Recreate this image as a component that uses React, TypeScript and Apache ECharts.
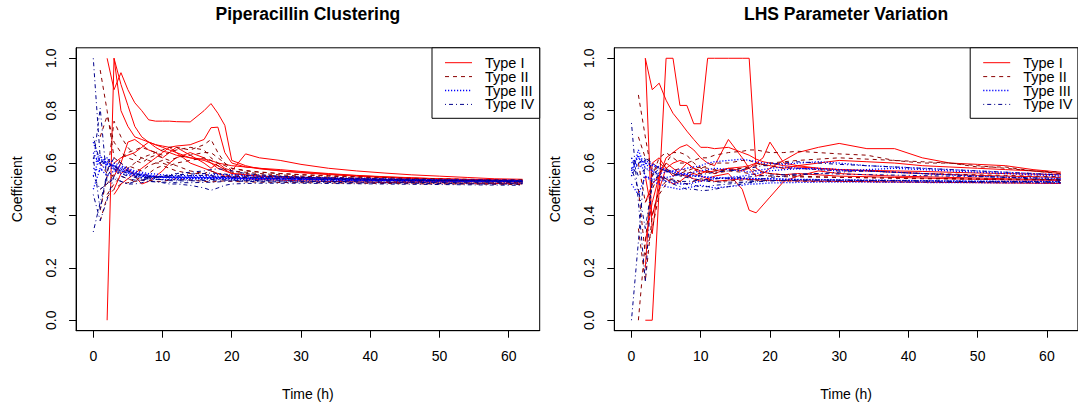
import React, { useEffect, useRef } from "react";
import * as echarts from "echarts";

// Time grid (hours) at which each curve is sampled
const TIME = [0, 1, 2, 3, 4, 5, 6, 7, 8, 9, 10, 11, 12, 14, 16, 17, 18, 19, 20, 22, 24, 27, 30, 34, 38, 42, 46, 50, 54, 58, 62];

const X_TICKS = [0, 10, 20, 30, 40, 50, 60];
const Y_TICKS = [0, 0.2, 0.4, 0.6, 0.8, 1.0];
const LEGEND_LABELS = ["Type I", "Type II", "Type III", "Type IV"];
const PANEL_TITLES = ["Piperacillin Clustering", "LHS Parameter Variation"];

// ---------- Left panel: Piperacillin Clustering ----------
const P_TYPE_I = [
  [null, null, 1.0, 0.88, 0.945, 0.88, 0.83, 0.8, 0.765, 0.76, 0.76, 0.76, 0.758, 0.757, 0.8, 0.827, 0.79, 0.744, 0.61, 0.59, 0.578, 0.57, 0.565, 0.558, 0.552, 0.547, 0.543, 0.54, 0.537, 0.535, 0.533],
  [null, null, 0.0, 1.0, 0.8, 0.74, 0.7, 0.69, 0.68, 0.67, 0.665, 0.66, 0.665, 0.67, 0.69, 0.735, 0.737, 0.64, 0.6, 0.585, 0.58, 0.575, 0.568, 0.56, 0.553, 0.548, 0.544, 0.54, 0.538, 0.536, 0.534],
  [null, null, null, 1.0, 0.9, 0.82, 0.74, 0.7, 0.68, 0.66, 0.645, 0.64, 0.63, 0.62, 0.615, 0.61, 0.6, 0.595, 0.59, 0.585, 0.58, 0.57, 0.563, 0.556, 0.55, 0.545, 0.541, 0.538, 0.536, 0.534, 0.532],
  [null, null, null, 0.55, 0.6, 0.68, 0.69, 0.67, 0.65, 0.64, 0.62, 0.64, 0.66, 0.63, 0.6, 0.58, 0.6, 0.58, 0.57, 0.635, 0.62, 0.61, 0.595, 0.58, 0.57, 0.562, 0.555, 0.55, 0.545, 0.54, 0.538],
  [null, null, null, 0.5, 0.56, 0.58, 0.55, 0.52, 0.53, 0.55, 0.57, 0.6, 0.62, 0.64, 0.62, 0.6, 0.58, 0.57, 0.56, 0.555, 0.55, 0.548, 0.545, 0.542, 0.54, 0.537, 0.535, 0.533, 0.532, 0.531, 0.53],
  [null, null, null, 0.6, 0.62, 0.63, 0.64, 0.66, 0.68, 0.67, 0.66, 0.65, 0.64, 0.62, 0.61, 0.6, 0.59, 0.575, 0.56, 0.555, 0.55, 0.546, 0.542, 0.538, 0.535, 0.533, 0.531, 0.53, 0.529, 0.528, 0.527],
  [null, null, null, 0.48, 0.52, 0.54, 0.56, 0.58, 0.6, 0.62, 0.64, 0.66, 0.64, 0.6, 0.58, 0.57, 0.56, 0.55, 0.545, 0.54, 0.537, 0.535, 0.532, 0.53, 0.528, 0.526, 0.525, 0.524, 0.523, 0.522, 0.521],
];
const P_TYPE_II = [
  [null, 0.955, 0.8, 0.62, 0.6, 0.58, 0.6, 0.62, 0.63, 0.64, 0.65, 0.66, 0.66, 0.65, 0.67, 0.69, 0.64, 0.6, 0.57, 0.565, 0.56, 0.555, 0.55, 0.546, 0.543, 0.54, 0.538, 0.536, 0.535, 0.534, 0.533],
  [null, 0.42, 0.55, 0.76, 0.7, 0.66, 0.63, 0.62, 0.61, 0.6, 0.6, 0.59, 0.6, 0.61, 0.62, 0.61, 0.59, 0.575, 0.565, 0.56, 0.555, 0.55, 0.547, 0.543, 0.54, 0.537, 0.535, 0.533, 0.532, 0.531, 0.53],
  [null, 0.5, 0.52, 0.56, 0.62, 0.64, 0.65, 0.66, 0.65, 0.64, 0.63, 0.64, 0.65, 0.66, 0.65, 0.62, 0.6, 0.59, 0.58, 0.572, 0.566, 0.56, 0.555, 0.55, 0.546, 0.543, 0.54, 0.538, 0.537, 0.536, 0.535],
  [null, 0.6, 0.56, 0.55, 0.57, 0.59, 0.58, 0.57, 0.59, 0.6, 0.61, 0.6, 0.59, 0.57, 0.56, 0.55, 0.545, 0.548, 0.55, 0.548, 0.545, 0.543, 0.54, 0.538, 0.536, 0.534, 0.533, 0.532, 0.531, 0.53, 0.53],
  [null, null, 0.48, 0.52, 0.55, 0.54, 0.53, 0.55, 0.56, 0.58, 0.59, 0.58, 0.57, 0.56, 0.56, 0.57, 0.56, 0.555, 0.55, 0.546, 0.543, 0.54, 0.537, 0.535, 0.533, 0.531, 0.53, 0.529, 0.528, 0.527, 0.526],
  [null, 0.38, 0.47, 0.5, 0.52, 0.525, 0.53, 0.535, 0.535, 0.53, 0.53, 0.535, 0.54, 0.535, 0.53, 0.528, 0.53, 0.532, 0.53, 0.528, 0.527, 0.526, 0.525, 0.524, 0.523, 0.522, 0.521, 0.52, 0.52, 0.519, 0.518],
  [null, 0.7, 0.78, 0.68, 0.64, 0.62, 0.61, 0.6, 0.62, 0.63, 0.62, 0.61, 0.62, 0.63, 0.64, 0.64, 0.62, 0.6, 0.58, 0.57, 0.565, 0.56, 0.556, 0.552, 0.548, 0.545, 0.542, 0.54, 0.538, 0.537, 0.536],
];
const P_TYPE_III = [
  [0.62, 0.61, 0.595, 0.585, 0.575, 0.565, 0.56, 0.555, 0.55, 0.548, 0.546, 0.545, 0.545, 0.544, 0.544, 0.545, 0.545, 0.544, 0.544, 0.543, 0.542, 0.541, 0.54, 0.538, 0.536, 0.535, 0.533, 0.532, 0.531, 0.53, 0.53],
  [0.6, 0.615, 0.6, 0.59, 0.58, 0.57, 0.562, 0.556, 0.552, 0.549, 0.547, 0.546, 0.545, 0.545, 0.545, 0.544, 0.544, 0.544, 0.543, 0.543, 0.542, 0.54, 0.539, 0.537, 0.535, 0.534, 0.533, 0.532, 0.531, 0.53, 0.529],
  [0.64, 0.59, 0.61, 0.58, 0.57, 0.565, 0.555, 0.55, 0.548, 0.546, 0.545, 0.543, 0.542, 0.542, 0.543, 0.543, 0.542, 0.542, 0.541, 0.54, 0.54, 0.539, 0.538, 0.536, 0.535, 0.534, 0.533, 0.532, 0.531, 0.531, 0.53],
  [0.5, 0.58, 0.55, 0.57, 0.56, 0.555, 0.55, 0.545, 0.54, 0.538, 0.537, 0.537, 0.538, 0.54, 0.54, 0.541, 0.54, 0.539, 0.538, 0.538, 0.537, 0.536, 0.535, 0.534, 0.533, 0.532, 0.531, 0.53, 0.53, 0.529, 0.528],
  [0.68, 0.6, 0.62, 0.6, 0.59, 0.58, 0.57, 0.565, 0.56, 0.558, 0.555, 0.553, 0.552, 0.552, 0.553, 0.555, 0.556, 0.556, 0.555, 0.553, 0.55, 0.548, 0.546, 0.544, 0.542, 0.54, 0.538, 0.536, 0.535, 0.534, 0.533],
  [0.55, 0.63, 0.59, 0.575, 0.57, 0.562, 0.556, 0.552, 0.549, 0.547, 0.546, 0.546, 0.546, 0.547, 0.548, 0.549, 0.549, 0.548, 0.548, 0.547, 0.546, 0.545, 0.544, 0.542, 0.54, 0.538, 0.537, 0.536, 0.535, 0.535, 0.534],
  [0.58, 0.57, 0.6, 0.59, 0.585, 0.575, 0.565, 0.56, 0.555, 0.55, 0.548, 0.547, 0.546, 0.545, 0.544, 0.543, 0.543, 0.543, 0.542, 0.542, 0.541, 0.54, 0.539, 0.538, 0.536, 0.535, 0.534, 0.533, 0.532, 0.532, 0.531],
];
const P_TYPE_IV = [
  [1.0, 0.62, 0.58, 0.6, 0.56, 0.55, 0.545, 0.54, 0.54, 0.538, 0.537, 0.536, 0.535, 0.535, 0.536, 0.537, 0.537, 0.536, 0.535, 0.534, 0.533, 0.532, 0.531, 0.53, 0.529, 0.528, 0.527, 0.526, 0.525, 0.525, 0.524],
  [0.337, 0.45, 0.55, 0.59, 0.57, 0.56, 0.55, 0.545, 0.545, 0.546, 0.547, 0.548, 0.55, 0.552, 0.553, 0.552, 0.55, 0.548, 0.546, 0.545, 0.544, 0.542, 0.54, 0.538, 0.536, 0.535, 0.534, 0.533, 0.532, 0.531, 0.53],
  [0.6, 0.81, 0.52, 0.55, 0.58, 0.57, 0.56, 0.555, 0.55, 0.548, 0.55, 0.552, 0.555, 0.558, 0.56, 0.562, 0.56, 0.558, 0.555, 0.552, 0.55, 0.548, 0.545, 0.542, 0.54, 0.538, 0.536, 0.535, 0.534, 0.533, 0.532],
  [0.48, 0.38, 0.46, 0.55, 0.53, 0.52, 0.53, 0.535, 0.53, 0.528, 0.527, 0.526, 0.525, 0.525, 0.526, 0.527, 0.528, 0.53, 0.532, 0.53, 0.529, 0.528, 0.527, 0.526, 0.525, 0.524, 0.523, 0.522, 0.521, 0.52, 0.52],
  [0.55, 0.5, 0.52, 0.54, 0.53, 0.52, 0.52, 0.525, 0.53, 0.53, 0.525, 0.52, 0.52, 0.515, 0.505, 0.496, 0.505, 0.515, 0.52, 0.522, 0.523, 0.523, 0.523, 0.522, 0.521, 0.52, 0.519, 0.518, 0.517, 0.516, 0.515],
  [0.7, 0.6, 0.62, 0.58, 0.55, 0.54, 0.535, 0.535, 0.54, 0.545, 0.55, 0.555, 0.56, 0.565, 0.57, 0.575, 0.578, 0.575, 0.57, 0.56, 0.555, 0.55, 0.546, 0.543, 0.54, 0.538, 0.536, 0.534, 0.533, 0.532, 0.531],
  [0.62, 0.42, 0.57, 0.62, 0.6, 0.57, 0.56, 0.55, 0.545, 0.54, 0.536, 0.533, 0.532, 0.532, 0.533, 0.534, 0.535, 0.535, 0.534, 0.533, 0.532, 0.531, 0.53, 0.529, 0.528, 0.527, 0.526, 0.525, 0.524, 0.523, 0.522],
];

// ---------- Right panel: LHS Parameter Variation ----------
const Q_TYPE_I = [
  [null, null, 1.0, 0.88, 0.905, 0.84, 0.79, 0.757, 0.722, 0.69, 0.66, 0.66, 0.655, 0.66, 0.64, 0.63, 0.615, 0.605, 0.6, 0.59, 0.585, 0.58, 0.575, 0.572, 0.57, 0.568, 0.565, 0.562, 0.56, 0.558, 0.555],
  [null, null, 0.0, 0.0, 0.5, 1.0, 1.0, 0.82, 0.82, 0.75, 0.75, 1.0, 1.0, 1.0, 1.0, 1.0, 0.58, 0.565, 0.56, 0.555, 0.56, 0.555, 0.55, 0.548, 0.545, 0.543, 0.54, 0.538, 0.536, 0.535, 0.534],
  [null, null, 1.0, 0.33, 0.55, 0.62, 0.64, 0.66, 0.67, 0.65, 0.62, 0.6, 0.59, 0.69, 0.62, 0.58, 0.6, 0.62, 0.68, 0.6, 0.59, 0.58, 0.575, 0.57, 0.565, 0.56, 0.556, 0.553, 0.55, 0.548, 0.545],
  [null, null, 0.3, 0.45, 0.55, 0.6, 0.58, 0.56, 0.55, 0.54, 0.53, 0.54, 0.55, 0.56, 0.5, 0.42, 0.41, 0.44, 0.47, 0.53, 0.55, 0.57, 0.56, 0.555, 0.55, 0.548, 0.545, 0.543, 0.54, 0.538, 0.536],
  [null, null, 0.2, 0.6, 0.62, 0.58, 0.55, 0.57, 0.6, 0.58, 0.56, 0.57, 0.56, 0.58, 0.57, 0.58, 0.55, 0.56, 0.58, 0.61, 0.64, 0.66, 0.675, 0.655, 0.655, 0.62, 0.6, 0.595, 0.59, 0.575, 0.565],
  [null, null, 0.45, 0.52, 0.55, 0.54, 0.52, 0.53, 0.55, 0.56, 0.55, 0.54, 0.53, 0.535, 0.54, 0.538, 0.536, 0.535, 0.534, 0.533, 0.532, 0.531, 0.53, 0.529, 0.528, 0.527, 0.526, 0.525, 0.524, 0.523, 0.522],
  [null, null, 0.55, 0.4, 0.5, 0.58, 0.6, 0.61, 0.6, 0.58, 0.57, 0.565, 0.57, 0.58, 0.585, 0.59, 0.6, 0.595, 0.59, 0.58, 0.59, 0.6, 0.61, 0.605, 0.6, 0.59, 0.585, 0.58, 0.575, 0.57, 0.56],
];
const Q_TYPE_II = [
  [null, 0.86, 0.7, 0.55, 0.62, 0.64, 0.62, 0.6, 0.6, 0.61, 0.62, 0.62, 0.63, 0.64, 0.645, 0.65, 0.65, 0.645, 0.64, 0.64, 0.645, 0.64, 0.635, 0.63, 0.61, 0.6, 0.6, 0.585, 0.585, 0.57, 0.566],
  [null, 0.0, 0.3, 0.55, 0.6, 0.58, 0.56, 0.55, 0.56, 0.57, 0.58, 0.59, 0.6, 0.6, 0.61, 0.61, 0.6, 0.59, 0.59, 0.58, 0.58, 0.575, 0.57, 0.57, 0.565, 0.56, 0.558, 0.555, 0.553, 0.55, 0.548],
  [null, 0.6, 0.45, 0.5, 0.56, 0.6, 0.64, 0.64, 0.63, 0.6, 0.58, 0.57, 0.56, 0.57, 0.58, 0.58, 0.57, 0.565, 0.56, 0.555, 0.55, 0.548, 0.546, 0.544, 0.542, 0.54, 0.539, 0.538, 0.537, 0.536, 0.535],
  [null, 0.35, 0.15, 0.4, 0.5, 0.53, 0.54, 0.53, 0.52, 0.53, 0.54, 0.535, 0.53, 0.532, 0.535, 0.536, 0.535, 0.534, 0.533, 0.532, 0.531, 0.53, 0.53, 0.529, 0.528, 0.527, 0.526, 0.526, 0.525, 0.525, 0.524],
  [null, 0.7, 0.62, 0.6, 0.58, 0.57, 0.57, 0.58, 0.57, 0.56, 0.56, 0.565, 0.57, 0.575, 0.58, 0.585, 0.59, 0.595, 0.6, 0.605, 0.61, 0.615, 0.62, 0.615, 0.61, 0.605, 0.6, 0.59, 0.58, 0.57, 0.56],
  [null, 0.5, 0.25, 0.35, 0.48, 0.52, 0.55, 0.56, 0.57, 0.58, 0.585, 0.58, 0.575, 0.57, 0.565, 0.56, 0.555, 0.552, 0.55, 0.548, 0.547, 0.546, 0.545, 0.544, 0.543, 0.542, 0.541, 0.54, 0.539, 0.538, 0.537],
];
const Q_TYPE_III = [
  [0.6, 0.62, 0.6, 0.59, 0.58, 0.57, 0.565, 0.56, 0.555, 0.55, 0.548, 0.545, 0.543, 0.54, 0.54, 0.54, 0.54, 0.54, 0.54, 0.538, 0.537, 0.536, 0.535, 0.534, 0.533, 0.532, 0.531, 0.53, 0.53, 0.53, 0.53],
  [0.58, 0.6, 0.61, 0.595, 0.585, 0.575, 0.568, 0.562, 0.557, 0.553, 0.55, 0.547, 0.545, 0.543, 0.542, 0.541, 0.541, 0.54, 0.54, 0.539, 0.538, 0.537, 0.536, 0.535, 0.534, 0.533, 0.532, 0.531, 0.53, 0.53, 0.529],
  [0.55, 0.65, 0.58, 0.57, 0.56, 0.565, 0.57, 0.575, 0.58, 0.585, 0.59, 0.6, 0.605, 0.61, 0.615, 0.61, 0.605, 0.6, 0.6, 0.595, 0.6, 0.605, 0.6, 0.59, 0.585, 0.58, 0.575, 0.57, 0.565, 0.56, 0.555],
  [0.52, 0.48, 0.55, 0.53, 0.52, 0.51, 0.505, 0.5, 0.505, 0.51, 0.515, 0.51, 0.505, 0.51, 0.515, 0.52, 0.52, 0.522, 0.524, 0.525, 0.526, 0.527, 0.527, 0.527, 0.526, 0.526, 0.525, 0.525, 0.524, 0.524, 0.523],
  [0.62, 0.58, 0.6, 0.57, 0.55, 0.545, 0.55, 0.555, 0.56, 0.565, 0.57, 0.575, 0.58, 0.575, 0.57, 0.565, 0.57, 0.575, 0.58, 0.585, 0.58, 0.575, 0.57, 0.575, 0.58, 0.575, 0.57, 0.565, 0.56, 0.555, 0.55],
  [0.57, 0.63, 0.55, 0.54, 0.535, 0.53, 0.525, 0.52, 0.52, 0.525, 0.53, 0.535, 0.54, 0.545, 0.55, 0.555, 0.56, 0.565, 0.57, 0.575, 0.578, 0.58, 0.575, 0.57, 0.565, 0.56, 0.555, 0.55, 0.546, 0.543, 0.54],
];
const Q_TYPE_IV = [
  [0.753, 0.45, 0.15, 0.55, 0.58, 0.57, 0.56, 0.55, 0.545, 0.54, 0.535, 0.53, 0.528, 0.527, 0.527, 0.528, 0.53, 0.532, 0.533, 0.534, 0.535, 0.535, 0.534, 0.533, 0.532, 0.531, 0.53, 0.529, 0.528, 0.527, 0.526],
  [0.0, 0.3, 0.62, 0.58, 0.55, 0.53, 0.52, 0.51, 0.5, 0.5, 0.495, 0.496, 0.5, 0.51, 0.52, 0.525, 0.528, 0.53, 0.532, 0.533, 0.534, 0.535, 0.535, 0.534, 0.533, 0.532, 0.531, 0.53, 0.53, 0.529, 0.528],
  [0.55, 0.6, 0.62, 0.6, 0.58, 0.57, 0.56, 0.555, 0.55, 0.55, 0.555, 0.56, 0.565, 0.57, 0.575, 0.58, 0.585, 0.59, 0.595, 0.6, 0.605, 0.6, 0.595, 0.59, 0.585, 0.58, 0.575, 0.57, 0.565, 0.56, 0.555],
  [0.58, 0.5, 0.35, 0.52, 0.56, 0.54, 0.53, 0.525, 0.52, 0.515, 0.51, 0.51, 0.515, 0.52, 0.525, 0.53, 0.535, 0.54, 0.545, 0.55, 0.555, 0.56, 0.565, 0.57, 0.565, 0.56, 0.555, 0.55, 0.545, 0.54, 0.535],
  [0.62, 0.55, 0.58, 0.56, 0.545, 0.54, 0.535, 0.53, 0.53, 0.532, 0.535, 0.537, 0.54, 0.542, 0.545, 0.547, 0.55, 0.552, 0.554, 0.556, 0.558, 0.56, 0.558, 0.556, 0.554, 0.552, 0.55, 0.548, 0.546, 0.544, 0.542],
];

const TYPE_STYLES = [
  { color: "#FF0000", type: "solid" as any, width: 1 },
  { color: "#8B0000", type: [4, 4] as any, width: 1 },
  { color: "#0000FF", type: [1.2, 1.8] as any, width: 1.3 },
  { color: "#00008B", type: [1, 3, 4, 3] as any, width: 1 },
];

const PANELS = [
  { groups: [P_TYPE_I, P_TYPE_II, P_TYPE_III, P_TYPE_IV] },
  { groups: [Q_TYPE_I, Q_TYPE_II, Q_TYPE_III, Q_TYPE_IV] },
];

const FONT = "'Liberation Sans', Arial, Helvetica, sans-serif";
const GRID_LEFT = [76.1, 614.3];
const GRID_TOP = 47.8;
const GRID_W = 463.6;
const GRID_H = 282.9;

function buildOption() {
  const series: any[] = [];
  PANELS.forEach((panel, p) => {
    panel.groups.forEach((group, g) => {
      group.forEach((values) => {
        series.push({
          type: "line",
          name: LEGEND_LABELS[g],
          xAxisIndex: p,
          yAxisIndex: p,
          data: TIME.map((t, i) => [t, values[i] == null ? "-" : values[i]]),
          symbol: "none",
          showSymbol: false,
          connectNulls: false,
          silent: true,
          lineStyle: { color: TYPE_STYLES[g].color, width: TYPE_STYLES[g].width, type: TYPE_STYLES[g].type },
          emphasis: { disabled: true },
        });
      });
    });
  });

  const grids = GRID_LEFT.map((left) => ({
    left,
    top: GRID_TOP,
    width: GRID_W,
    height: GRID_H,
    show: true,
    borderColor: "#000",
    borderWidth: 1,
    backgroundColor: "transparent",
  }));

  const xAxes = GRID_LEFT.map((_, i) => ({
    type: "value",
    gridIndex: i,
    min: -2.48,
    max: 64.48,
    name: "Time (h)",
    nameLocation: "middle",
    nameGap: 56,
    nameTextStyle: { fontFamily: FONT, fontSize: 14, color: "#000" },
    axisLine: { show: true, onZero: false, lineStyle: { color: "#000", width: 1 } },
    axisTick: { show: true, length: 7, lineStyle: { color: "#000" }, customValues: X_TICKS },
    axisLabel: {
      show: true,
      customValues: X_TICKS,
      margin: 18,
      fontFamily: FONT,
      fontSize: 14,
      color: "#000",
    },
    splitLine: { show: false },
  }));

  const yAxes = GRID_LEFT.map((_, i) => ({
    type: "value",
    gridIndex: i,
    min: -0.04,
    max: 1.04,
    name: "Coefficient",
    nameLocation: "middle",
    nameGap: 52,
    nameRotate: 90,
    nameTextStyle: { fontFamily: FONT, fontSize: 14, color: "#000" },
    axisLine: { show: true, onZero: false, lineStyle: { color: "#000", width: 1 } },
    axisTick: { show: true, length: 7, lineStyle: { color: "#000" }, customValues: Y_TICKS },
    axisLabel: {
      show: true,
      customValues: Y_TICKS,
      rotate: 90,
      margin: 18,
      fontFamily: FONT,
      fontSize: 14,
      color: "#000",
      formatter: (v: number) => v.toFixed(1),
    },
    splitLine: { show: false },
  }));

  const graphics: any[] = [];
  GRID_LEFT.forEach((left, p) => {
    graphics.push({
      type: "text",
      silent: true,
      style: {
        text: PANEL_TITLES[p],
        x: left + GRID_W / 2,
        y: 14,
        textAlign: "center",
        textVerticalAlign: "middle",
        fontFamily: FONT,
        fontWeight: "bold",
        fontSize: 17.5,
        fill: "#000",
      },
    });
    const right = left + GRID_W;
    const lx = right - 107.7;
    const children: any[] = [
      {
        type: "rect",
        shape: { x: lx, y: GRID_TOP, width: 107.7, height: 70.5 },
        style: { fill: "#fff", stroke: "#000", lineWidth: 1 },
      },
    ];
    LEGEND_LABELS.forEach((lab, g) => {
      const y = 62.7 + g * 13.9;
      const st = TYPE_STYLES[g];
      children.push({
        type: "line",
        shape: { x1: lx + 13, y1: y, x2: lx + 40, y2: y },
        style: { stroke: st.color, lineWidth: st.width, lineDash: Array.isArray(st.type) ? st.type : null },
      });
      children.push({
        type: "text",
        style: {
          text: lab,
          x: lx + 53,
          y,
          textAlign: "left",
          textVerticalAlign: "middle",
          fontFamily: FONT,
          fontSize: 14.5,
          fill: "#000",
        },
      });
    });
    graphics.push({ type: "group", silent: true, children });
  });

  return {
    animation: false,
    backgroundColor: "#fff",
    grid: grids,
    xAxis: xAxes,
    yAxis: yAxes,
    series,
    graphic: graphics,
  };
}

export default function App() {
  const ref = useRef<HTMLDivElement>(null);
  useEffect(() => {
    const chart = echarts.init(ref.current!, null, { renderer: "svg" });
    chart.setOption(buildOption() as any);
    return () => chart.dispose();
  }, []);
  return (
    <div
      ref={ref}
      style={{ position: "absolute", left: 0, top: 0, width: 1078, height: 406 }}
    />
  );
}
